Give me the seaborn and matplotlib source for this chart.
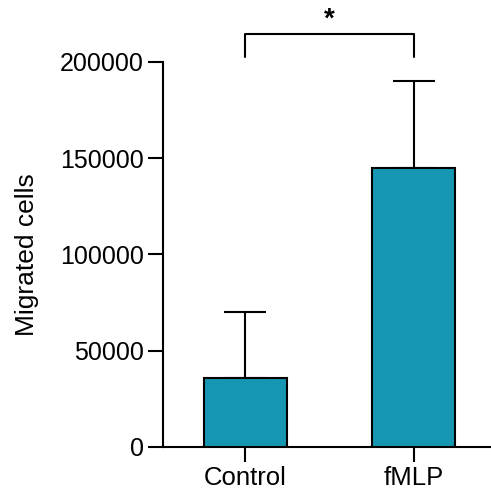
import matplotlib
matplotlib.use("Agg")
import matplotlib.pyplot as plt
import seaborn as sns
import numpy as np

groups = ["Control", "fMLP"]
means = [36000, 145000]
upper_err = [34000, 45000]
y_ticks = [0, 50000, 100000, 150000, 200000]
sig_label = "*"

bar_color = "#1597B3"

sns.set_theme(style="ticks")
plt.rcParams["font.family"] = ["Liberation Sans", "DejaVu Sans"]
plt.rcParams["text.color"] = "black"
plt.rcParams["axes.labelcolor"] = "black"

fig = plt.figure(figsize=(4.91, 4.95), dpi=100)
ax = fig.add_axes([0.332, 0.097, 0.666, 0.778])

sns.barplot(x=groups, y=means, color=bar_color, edgecolor="black",
            linewidth=1.5, width=0.49, saturation=1, ax=ax, zorder=3)

xpos = np.arange(len(groups))
ax.errorbar(xpos, means, yerr=[np.zeros(len(means)), upper_err], fmt="none",
            ecolor="black", elinewidth=1.5, capsize=15, capthick=1.5, zorder=2)

ax.set_xlim(-0.49, 1.455)
ax.set_ylim(0, 200000)
ax.set_yticks(y_ticks)
ax.set_yticklabels([str(t) for t in y_ticks])
ax.set_ylabel("Migrated cells", fontsize=19, labelpad=15, color="black")
ax.set_xlabel("")

for side in ("top", "right"):
    ax.spines[side].set_visible(False)
for side in ("left", "bottom"):
    ax.spines[side].set_linewidth(1.5)
    ax.spines[side].set_color("black")
ax.tick_params(axis="both", length=11, width=1.5, color="black",
               labelcolor="black", pad=3)
ax.tick_params(axis="y", labelsize=18)
ax.tick_params(axis="x", labelsize=18.5)

# significance bracket between the two groups
top = max(m + e for m, e in zip(means, upper_err))
y_low = top + 0.063 * 200000
y_high = top + 0.123 * 200000
ax.plot([0, 0, 1, 1], [y_low, y_high, y_high, y_low], color="black",
        linewidth=1.5, clip_on=False)
ax.text(0.5, y_high + 0.004 * 200000, sig_label, ha="center", va="bottom",
        fontsize=20, fontweight="bold", color="black")

fig.savefig("out.png", dpi=100)
